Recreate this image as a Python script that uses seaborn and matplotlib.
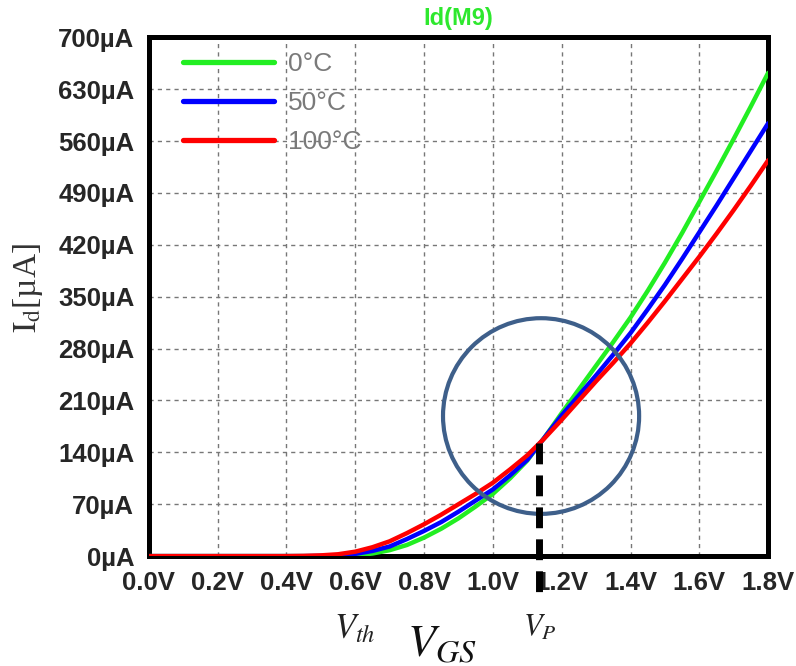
import numpy as np
import pandas as pd
import matplotlib
matplotlib.use("Agg")
import matplotlib.pyplot as plt
import matplotlib.transforms as mtransforms
from matplotlib.patches import Ellipse
import seaborn as sns

# Gate voltage sweep (V)
vgs = [0.0, 0.1, 0.2, 0.3, 0.4, 0.45, 0.5, 0.55, 0.6, 0.65, 0.7, 0.75, 0.8, 0.85,
       0.9, 0.95, 1.0, 1.05, 1.1, 1.15, 1.2, 1.25, 1.3, 1.35, 1.4, 1.45, 1.5, 1.55,
       1.6, 1.65, 1.7, 1.75, 1.8]

# Drain current Id(M9) in uA for each temperature
id_0c = [0, 0, 0, 0, 0, 0, 0, 0.4, 1.2, 3.5, 8, 15, 25, 37, 51, 67, 84, 105, 129,
         160, 193, 225, 257, 289, 322, 358, 396, 436, 478, 520, 563, 607, 652]
id_50c = [0, 0, 0, 0, 0, 0, 0.3, 1.2, 3, 7, 13, 23, 34, 46, 60, 75, 90, 109, 130,
          160, 190, 217, 244, 272, 301, 333, 366, 401, 437, 473, 510, 547, 584]
id_100c = [0, 0, 0, 0, 0, 0.3, 1.0, 2.5, 6, 12, 20, 31, 43, 56, 70, 84, 99, 117, 136,
           159, 184, 210, 236, 261, 287, 315, 344, 374, 404, 435, 467, 500, 534]

series_labels = ["0°C", "50°C", "100°C"]
series_colors = ["#22ee22", "#0000ff", "#ff0000"]

x_ticks = [0.0, 0.2, 0.4, 0.6, 0.8, 1.0, 1.2, 1.4, 1.6, 1.8]
y_ticks = [0, 70, 140, 210, 280, 350, 420, 490, 560, 630, 700]

# Annotation points (pinch-off point and threshold)
v_th = 0.6
v_p = 1.135
i_p = 152

sns.set_style("white")
plt.rcParams["font.family"] = ["Liberation Sans", "DejaVu Sans"]
plt.rcParams["mathtext.fontset"] = "stix"

df = pd.DataFrame({
    "vgs": vgs * 3,
    "id": id_0c + id_50c + id_100c,
    "temp": [series_labels[0]] * len(vgs) + [series_labels[1]] * len(vgs)
            + [series_labels[2]] * len(vgs),
})

fig = plt.figure(figsize=(7.96, 6.66), dpi=100)
ax = fig.add_axes([0.187, 0.165, 0.778, 0.779])

sns.lineplot(data=df, x="vgs", y="id", hue="temp", hue_order=series_labels,
             palette=dict(zip(series_labels, series_colors)), linewidth=3.2,
             sort=False, legend=False, ax=ax, zorder=3)

ax.set_xlim(0, 1.8)
ax.set_ylim(0, 700)
ax.set_xticks(x_ticks)
ax.set_xticklabels([f"{t:.1f}V" for t in x_ticks])
ax.set_yticks(y_ticks)
ax.set_yticklabels([f"{t}µA" for t in y_ticks])
ax.tick_params(axis="both", direction="out", length=9, width=3.2, color="black",
               labelsize=18.5, pad=1.5)
for lab in ax.get_xticklabels() + ax.get_yticklabels():
    lab.set_fontweight("bold")

ax.grid(True, color="#777777", linestyle=(0, (3, 3)), linewidth=1)
for side in ["left", "right", "top", "bottom"]:
    ax.spines[side].set_visible(True)
    ax.spines[side].set_color("black")
    ax.spines[side].set_linewidth(3.6)

ax.set_title("Id(M9)", color="#2ee82e", fontsize=17, fontweight="bold", pad=9)

# legend
handles = [plt.Line2D([], [], color=c, linewidth=3.8) for c in series_colors]
leg = ax.legend(handles, series_labels, loc="upper left", bbox_to_anchor=(0.055, 0.972),
                frameon=False, fontsize=19, handlelength=3.45, handletextpad=0.53,
                labelspacing=0.57, borderpad=0, borderaxespad=0)
for t in leg.get_texts():
    t.set_color("#7a7a7a")

ax.set_xlabel("")
ax.set_ylabel(r"$\mathrm{I_d}$[µA]", fontsize=24, color="#333333",
              family=["Liberation Serif", "DejaVu Serif"])
ax.yaxis.set_label_coords(-0.168, 0.516)

# annotations
ax.add_patch(Ellipse((1.14, 189), 0.57, 264, fill=False, edgecolor="#3e5f8a",
                     linewidth=3, zorder=4))
ax.plot([v_p, v_p], [i_p, -62], color="black", linewidth=5,
        linestyle=(0, (3, 1.6)), clip_on=False, zorder=5)

trans = mtransforms.blended_transform_factory(ax.transData, ax.transAxes)
ax.text(v_th, -0.139, r"$V_{th}$", transform=trans, ha="center", va="center",
        fontsize=25, color="#222222")
ax.text(v_p, -0.139, r"$V_P$", transform=trans, ha="center", va="center",
        fontsize=22, color="#222222")
ax.text(0.85, -0.17, r"$V_{GS}$", transform=trans, ha="center", va="center",
        fontsize=33, color="#111111")

fig.savefig("out.png", dpi=100)
